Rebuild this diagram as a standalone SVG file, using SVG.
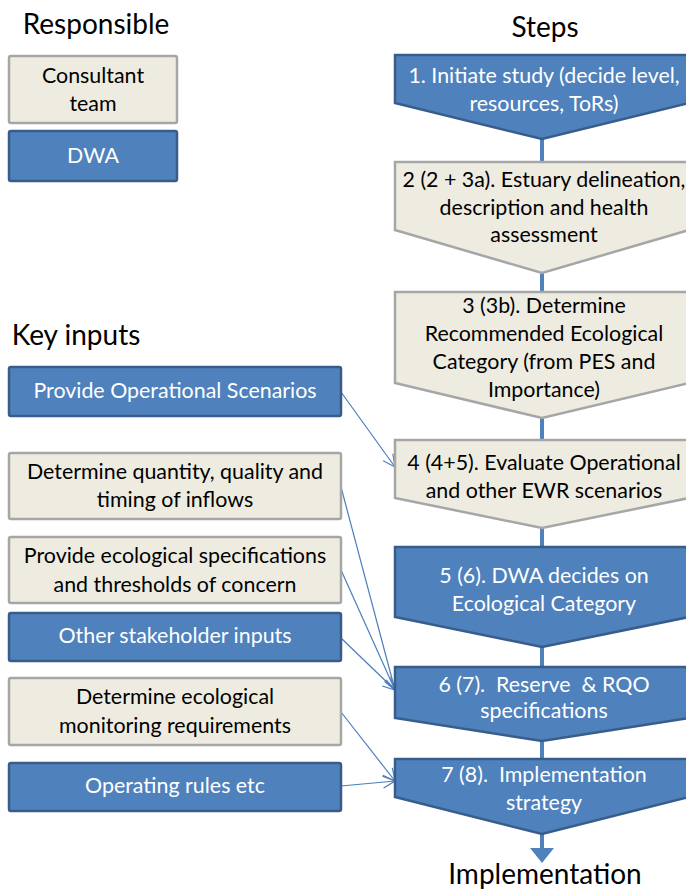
<svg xmlns="http://www.w3.org/2000/svg" width="686" height="890" viewBox="0 0 686 890">
<style>
text{font-family:Lato,"Liberation Sans",sans-serif;text-anchor:middle}
.h{font-size:28px;fill:#000}
.t{font-size:21.4px}
.cons{fill:#EEECE1;stroke:#A6A6A6;stroke-width:2.5}
.dwa{fill:#4F81BD;stroke:#385D8A;stroke-width:2.5}
.dk{fill:#000}
.wt{fill:#fff}
.link{stroke:#4A7EBB;stroke-width:1.2;fill:none}
</style>
<defs>
<marker id="ah" markerUnits="userSpaceOnUse" markerWidth="14" markerHeight="14" viewBox="0 0 14 14" refX="13" refY="7" orient="auto">
<path d="M1,1 L13,7 L1,13" fill="none" stroke="#4A7EBB" stroke-width="1.2"/>
</marker>
</defs>
<rect width="686" height="890" fill="#fff"/>
<text class="h" x="96" y="34">Responsible</text>
<text class="h" x="545" y="37">Steps</text>
<text class="h" x="76" y="345">Key inputs</text>
<g id="legend-consultant"><rect class="cons" x="9" y="56" width="168" height="67" rx="2"/><text class="t dk" x="93" y="83">Consultant</text><text class="t dk" x="93" y="111">team</text></g>
<g id="legend-dwa"><rect class="dwa" x="9" y="131" width="168" height="50" rx="2"/><text class="t wt" x="93" y="163">DWA</text></g>
<g id="connectors">
<line x1="542" y1="60" x2="542" y2="850" stroke="#4F81BD" stroke-width="4"/>
<path d="M530,848 L554,848 L542,863 Z" fill="#4F81BD"/>
<line class="link" x1="341" y1="392" x2="395" y2="467" marker-end="url(#ah)"/>
<line class="link" x1="341" y1="487" x2="395" y2="690" marker-end="url(#ah)"/>
<line class="link" x1="341" y1="570" x2="395" y2="690" marker-end="url(#ah)"/>
<line class="link" x1="341" y1="638" x2="395" y2="690" marker-end="url(#ah)"/>
<line class="link" x1="341" y1="712" x2="395" y2="781" marker-end="url(#ah)"/>
<line class="link" x1="341" y1="786" x2="395" y2="781" marker-end="url(#ah)"/>
</g>
<g id="step1"><path class="dwa" d="M395,55 L689,55 L689,103 L542,139 L395,103 Z"/><text class="t wt" x="544" y="83">1. Initiate study (decide level,</text><text class="t wt" x="544" y="111">resources, ToRs)</text></g>
<g id="step2"><path class="cons" d="M395,162 L689,162 L689,230 L542,273 L395,230 Z"/><text class="t dk" x="544" y="187">2 (2 + 3a). Estuary delineation,</text><text class="t dk" x="544" y="215">description and health</text><text class="t dk" x="544" y="242">assessment</text></g>
<g id="step3"><path class="cons" d="M395,292 L689,292 L689,383 L542,418 L395,383 Z"/><text class="t dk" x="544" y="313">3 (3b). Determine</text><text class="t dk" x="544" y="341">Recommended Ecological</text><text class="t dk" x="544" y="369">Category (from PES and</text><text class="t dk" x="544" y="397">Importance)</text></g>
<g id="step4"><path class="cons" d="M395,440 L689,440 L689,498 L542,528 L395,498 Z"/><text class="t dk" x="544" y="470">4 (4+5). Evaluate Operational</text><text class="t dk" x="544" y="498">and other EWR scenarios</text></g>
<g id="step5"><path class="dwa" d="M395,547 L689,547 L689,617 L542,647 L395,617 Z"/><text class="t wt" x="544" y="583">5 (6). DWA decides on</text><text class="t wt" x="544" y="611">Ecological Category</text></g>
<g id="step6"><path class="dwa" d="M395,667 L689,667 L689,718 L542,741 L395,718 Z"/><text class="t wt" x="544" y="692" xml:space="preserve">6 (7).  Reserve  &amp; RQO</text><text class="t wt" x="544" y="718">specifications</text></g>
<g id="step7"><path class="dwa" d="M395,759 L689,759 L689,797 L542,834 L395,797 Z"/><text class="t wt" x="544" y="782" xml:space="preserve">7 (8).  Implementation</text><text class="t wt" x="544" y="810">strategy</text></g>
<text class="h" x="545" y="884">Implementation</text>
<g id="in1"><rect class="dwa" x="9" y="367" width="332" height="49" rx="2"/><text class="t wt" x="175" y="398">Provide Operational Scenarios</text></g>
<g id="in2"><rect class="cons" x="9" y="453" width="332" height="66" rx="2"/><text class="t dk" x="175" y="479">Determine quantity, quality and</text><text class="t dk" x="175" y="507">timing of inflows</text></g>
<g id="in3"><rect class="cons" x="9" y="537" width="332" height="66" rx="2"/><text class="t dk" x="175" y="563">Provide ecological specifications</text><text class="t dk" x="175" y="592">and thresholds of concern</text></g>
<g id="in4"><rect class="dwa" x="9" y="613" width="332" height="48" rx="2"/><text class="t wt" x="175" y="643">Other stakeholder inputs</text></g>
<g id="in5"><rect class="cons" x="9" y="678" width="332" height="67" rx="2"/><text class="t dk" x="175" y="704">Determine ecological</text><text class="t dk" x="175" y="733">monitoring requirements</text></g>
<g id="in6"><rect class="dwa" x="9" y="763" width="332" height="48" rx="2"/><text class="t wt" x="175" y="793">Operating rules etc</text></g>
</svg>
